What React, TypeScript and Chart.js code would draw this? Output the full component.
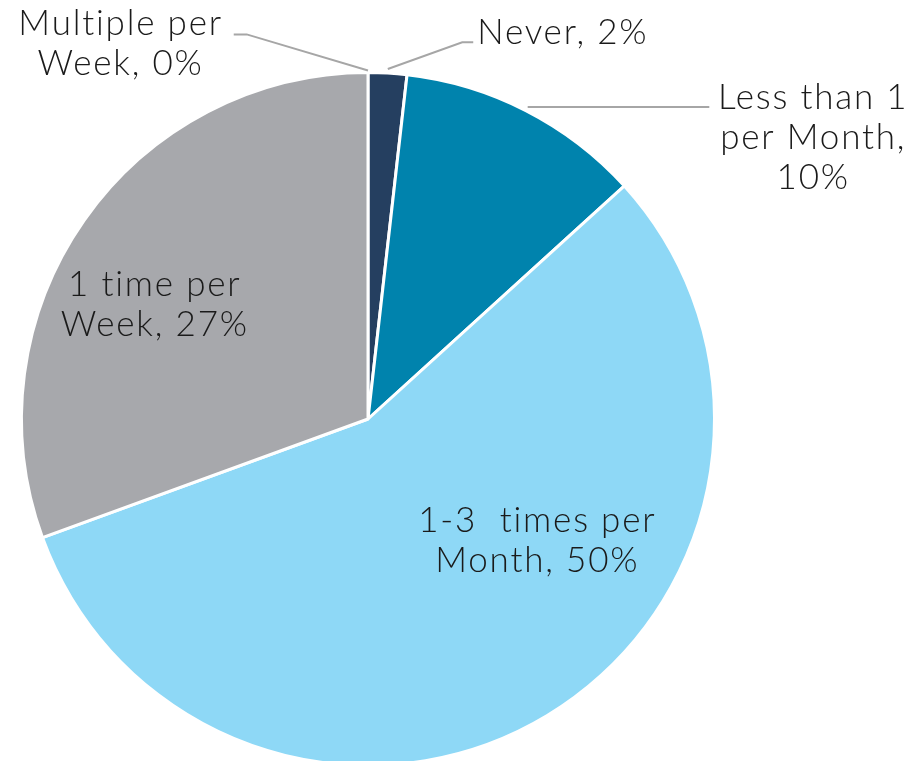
import React, { useEffect, useRef } from "react";
import { Chart, registerables } from "chart.js";

Chart.register(...registerables);

const categories = ["Never", "Less than 1 per Month", "1-3  times per Month", "1 time per Week", "Multiple per Week"];
const values = [1.6, 10.2, 50, 27.2, 0];
const labelLines = [
  ["Never, 2%"],
  ["Less than 1", "per Month,", "10%"],
  ["1-3  times per", "Month, 50%"],
  ["1 time per", "Week, 27%"],
  ["Multiple per", "Week, 0%"],
];
const colors = ["#253F60", "#0083AD", "#8ED8F6", "#A7A8AC", "#7F7F7F"];

const FONT = "300 35px Lato, 'Open Sans', sans-serif";
const LINE_H = 40;
const LEADER = "#A6A6A6";
const SPACING = 1.8;

const labelPlugin = {
  id: "pieLabels",
  afterDatasetsDraw(chart: any) {
    const ctx: any = chart.ctx;
    const meta = chart.getDatasetMeta(0);
    const arcs = meta.data;
    if (!arcs.length) return;
    const a0 = arcs[0].getProps(["x", "y", "outerRadius"], true);
    const cx = a0.x, cy = a0.y, r = a0.outerRadius;
    ctx.save();
    ctx.font = FONT;
    ctx.letterSpacing = SPACING + "px";
    ctx.fillStyle = "#1a1a1a";
    ctx.strokeStyle = LEADER;
    ctx.lineWidth = 2;
    const mid = (i: number) => {
      const p = arcs[i].getProps(["startAngle", "endAngle"], true);
      return (p.startAngle + p.endAngle) / 2;
    };
    const edge = (ang: number, rr: number) => [cx + Math.cos(ang) * rr, cy + Math.sin(ang) * rr];
    const drawLines = (lines: string[], x: number, y: number, align: CanvasTextAlign) => {
      ctx.textAlign = align;
      ctx.textBaseline = "alphabetic";
      const shift = align === "center" ? SPACING / 2 : 0;
      lines.forEach((t, k) => ctx.fillText(t, x + shift, y + k * LINE_H));
    };
    const poly = (pts: number[][]) => {
      ctx.beginPath();
      ctx.moveTo(pts[0][0], pts[0][1]);
      for (let k = 1; k < pts.length; k++) ctx.lineTo(pts[k][0], pts[k][1]);
      ctx.stroke();
    };

    // 0: Never (outside, upper right)
    {
      const p0 = edge(mid(0), r + 4);
      const p1 = [cx + 0.272 * r, cy - 1.087 * r];
      const p2 = [p1[0] + 11, p1[1]];
      poly([p0, p1, p2]);
      drawLines(labelLines[0], p2[0] + 4, p1[1] + 2, "left");
    }
    // 1: Less than 1 per Month (outside, right)
    {
      const p0 = edge(mid(1), r + 4);
      const p1 = [cx + 0.985 * r, p0[1]];
      poly([p0, p1]);
      drawLines(labelLines[1], p1[0] + 103, p0[1] + 2, "center");
    }
    // 2: 1-3 times per Month (inside)
    drawLines(labelLines[2], cx + 0.486 * r, cy + 0.327 * r, "center");
    // 3: 1 time per Week (inside)
    drawLines(labelLines[3], cx - 0.618 * r, cy - 0.355 * r, "center");
    // 4: Multiple per Week (outside, upper left)
    {
      const p0 = edge(mid(4), r + 2);
      const p1 = [cx - 0.35 * r, cy - 1.11 * r];
      const p2 = [p1[0] - 13, p1[1]];
      poly([p0, p1, p2]);
      drawLines(labelLines[4], p2[0] - 114, p1[1] + 1, "center");
    }
    ctx.restore();
  },
};

export default function App() {
  const ref = useRef<HTMLCanvasElement | null>(null);
  useEffect(() => {
    document.body.style.margin = "0";
    const chart = new Chart(ref.current as HTMLCanvasElement, {
      type: "pie",
      data: {
        labels: categories,
        datasets: [
          {
            data: values,
            backgroundColor: colors,
            borderColor: "#ffffff",
            borderWidth: 3,
          },
        ],
      },
      options: {
        animation: false,
        responsive: true,
        maintainAspectRatio: false,
        layout: { padding: { left: 20, right: 205, top: 70, bottom: 12 } },
        plugins: { legend: { display: false }, tooltip: { enabled: false } },
      },
      plugins: [labelPlugin],
    });
    return () => chart.destroy();
  }, []);
  return (
    <div style={{ position: "fixed", left: 0, top: 0, width: 921, height: 761, overflow: "hidden", background: "#fff" }}>
      <div style={{ position: "relative", width: 921, height: 780 }}>
        <canvas ref={ref} />
      </div>
    </div>
  );
}
